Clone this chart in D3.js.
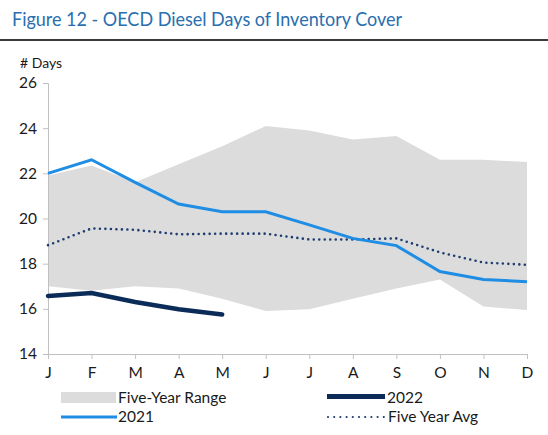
<!DOCTYPE html>
<html><head><meta charset="utf-8">
<script src="https://cdn.jsdelivr.net/npm/d3@7"></script>
<style>body{margin:0;background:#fff}svg{display:block}text{font-family:Lato,"Open Sans",sans-serif}</style>
</head><body><svg id="c" width="548" height="435"></svg>
<script>
const months = ["J","F","M","A","M","J","J","A","S","O","N","D"];
const rangeLow  = [17.0,16.8,17.0,16.9,16.45,15.9,15.98,16.45,16.9,17.3,16.1,15.95];
const rangeHigh = [21.9,22.35,21.6,22.4,23.2,24.1,23.9,23.5,23.65,22.6,22.6,22.5];
const y2021 = [22.0,22.6,21.6,20.64,20.3,20.3,19.72,19.12,18.8,17.65,17.3,17.2];
const y2022 = [16.57,16.7,16.3,15.98,15.75];
const avg = [18.82,19.56,19.5,19.3,19.33,19.33,19.07,19.07,19.12,18.5,18.05,17.95];
const yTicks = [14,16,18,20,22,24,26];

const svg = d3.select("#c");
const x = d3.scalePoint().domain(d3.range(12)).range([48,527]);
const y = d3.scaleLinear().domain([14,26]).range([354,83]);

// title
svg.append("text").attr("x",12).attr("y",26).attr("fill","#2a6faf")
  .attr("font-size",19.5).attr("textLength",390).attr("lengthAdjust","spacingAndGlyphs")
  .text("Figure 12 - OECD Diesel Days of Inventory Cover");
svg.append("line").attr("x1",0).attr("x2",548).attr("y1",40).attr("y2",40)
  .attr("stroke","#3a3a3a").attr("stroke-width",2);

// range area
const area = d3.area().x((d,i)=>x(i)).y0((d,i)=>y(rangeLow[i])).y1(d=>y(d));
svg.append("path").datum(rangeHigh).attr("d",area).attr("fill","#dcdcdc");

// axes
const yAxis = d3.axisLeft(y).tickValues(yTicks).tickSize(5).tickPadding(6);
const gy = svg.append("g").attr("transform","translate(48,0)").call(yAxis);
gy.select(".domain").attr("stroke","#c0c0c0");
gy.selectAll(".tick line").attr("stroke","#c0c0c0");
gy.selectAll("text").attr("font-size",15.5).attr("fill","#1a1a1a").attr("font-family","Lato,sans-serif");

const xAxis = d3.axisBottom(x).tickFormat(i=>months[i]).tickSize(5).tickPadding(8);
const gx = svg.append("g").attr("transform","translate(0,354)").call(xAxis);
gx.select(".domain").attr("stroke","#c0c0c0").attr("d","M43,0.5H527.5");
gx.selectAll(".tick line").attr("stroke","#c0c0c0");
gx.selectAll("text").attr("font-size",15.5).attr("fill","#1a1a1a").attr("font-family","Lato,sans-serif");

svg.append("text").attr("x",20).attr("y",68).attr("font-size",14).attr("fill","#1a1a1a").text("# Days");

const line = d3.line().x((d,i)=>x(i)).y(d=>y(d));
svg.append("path").datum(avg).attr("d",line).attr("fill","none").attr("stroke","#1f3d70")
  .attr("stroke-width",2.6).attr("stroke-dasharray","0 5.5").attr("stroke-linecap","round");
svg.append("path").datum(y2021).attr("d",line).attr("fill","none").attr("stroke","#1e8de3").attr("stroke-width",3);
svg.append("path").datum(y2022).attr("d",line).attr("fill","none").attr("stroke","#0b2c58").attr("stroke-width",4.5).attr("stroke-linecap","round");

// legend
const lg = svg.append("g");
lg.append("rect").attr("x",61).attr("y",392).attr("width",55).attr("height",11).attr("fill","#dcdcdc");
lg.append("text").attr("x",118).attr("y",403).attr("font-size",15.5).attr("fill","#1a1a1a").text("Five-Year Range");
lg.append("line").attr("x1",61).attr("x2",117).attr("y1",417).attr("y2",417).attr("stroke","#1e8de3").attr("stroke-width",3);
lg.append("text").attr("x",118).attr("y",422).attr("font-size",15.5).attr("fill","#1a1a1a").text("2021");
lg.append("line").attr("x1",327).attr("x2",385).attr("y1",396.5).attr("y2",396.5).attr("stroke","#0b2c58").attr("stroke-width",5);
lg.append("text").attr("x",387).attr("y",403).attr("font-size",15.5).attr("fill","#1a1a1a").text("2022");
lg.append("line").attr("x1",328).attr("x2",384).attr("y1",417).attr("y2",417).attr("stroke","#1f3d70")
  .attr("stroke-width",2.2).attr("stroke-dasharray","0 6.2").attr("stroke-linecap","round");
lg.append("text").attr("x",388).attr("y",422).attr("font-size",15.5).attr("fill","#1a1a1a").text("Five Year Avg");
</script></body></html>
